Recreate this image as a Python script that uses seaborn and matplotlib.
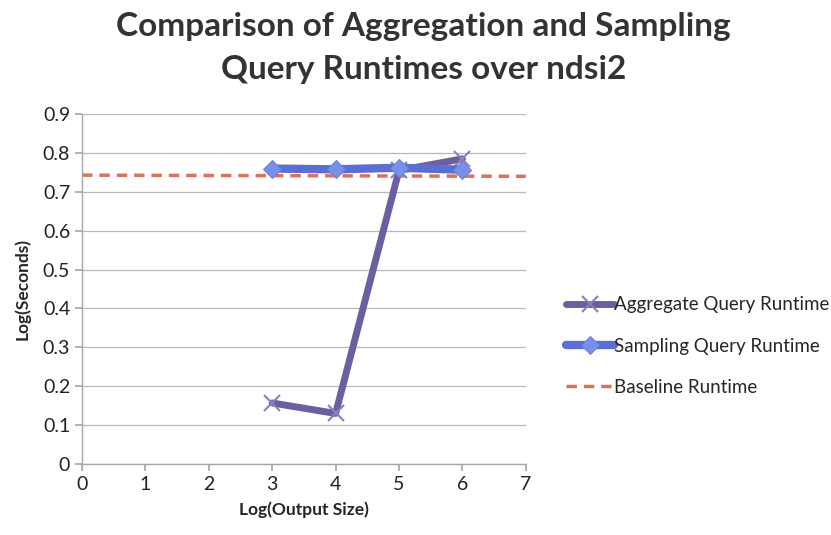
import matplotlib
matplotlib.use("Agg")
import matplotlib.pyplot as plt
import seaborn as sns
import pandas as pd

x_vals = [3, 4, 5, 6]
aggregate = [0.157, 0.130, 0.755, 0.785]
sampling = [0.760, 0.758, 0.762, 0.757]
baseline_x = [0, 7]
baseline = [0.743, 0.740]

sns.set_theme(style="white")
plt.rcParams['font.family'] = ['Lato', 'DejaVu Sans']

fig = plt.figure(figsize=(8.31, 5.35), dpi=100)
ax = fig.add_axes([0.0987, 0.1327, 0.534, 0.654])

df_a = pd.DataFrame({"x": x_vals, "y": aggregate})
df_s = pd.DataFrame({"x": x_vals, "y": sampling})
df_b = pd.DataFrame({"x": baseline_x, "y": baseline})

sns.lineplot(data=df_a, x="x", y="y", ax=ax, color="#6c5f9f", linewidth=5,
             marker="x", markersize=12, markeredgewidth=1.5, markeredgecolor="#8a80c0",
             label="Aggregate Query Runtime", zorder=3)
sns.lineplot(data=df_s, x="x", y="y", ax=ax, color="#5a6fd0", linewidth=6,
             marker="D", markersize=9, markeredgecolor="#6a80e0", markerfacecolor="#7a90e8",
             label="Sampling Query Runtime", zorder=4)
sns.lineplot(data=df_b, x="x", y="y", ax=ax, color="#d9735a", linewidth=2.5,
             linestyle=(0, (3, 2)), label="Baseline Runtime", zorder=2)

ax.set_xlim(0, 7)
ax.set_ylim(0, 0.9)
ax.set_xticks(range(0, 8))
ax.set_yticks([i / 10 for i in range(0, 10)])
ax.set_yticklabels(["0"] + [f"{i/10:.1f}" for i in range(1, 10)])
ax.yaxis.grid(True, color="#b8b8b8", linewidth=0.9)
ax.xaxis.grid(False)
for s in ["top", "right"]:
    ax.spines[s].set_visible(False)
for s in ["left", "bottom"]:
    ax.spines[s].set_color("#a8a8a8")
    ax.spines[s].set_linewidth(1)
ax.tick_params(axis="both", which="both", length=5, color="#a8a8a8", labelsize=14,
               labelcolor="#222222", direction="out", left=True, bottom=True)
ax.set_xlabel("Log(Output Size)", fontsize=12.5, fontweight="bold", labelpad=6)
ax.set_ylabel("Log(Seconds)", fontsize=12.5, fontweight="bold", labelpad=9)

fig.suptitle("Comparison of Aggregation and Sampling\nQuery Runtimes over ndsi2",
             fontsize=24, fontweight="bold", color="#333333", x=0.51, y=0.978,
             linespacing=1.6)

leg = ax.legend(loc="center left", bbox_to_anchor=(1.09, 0.337), frameon=False,
                fontsize=13.5, handlelength=2.6, handletextpad=0.0, labelspacing=1.3,
                borderaxespad=0, borderpad=0)

fig.savefig("out.png", dpi=100)
